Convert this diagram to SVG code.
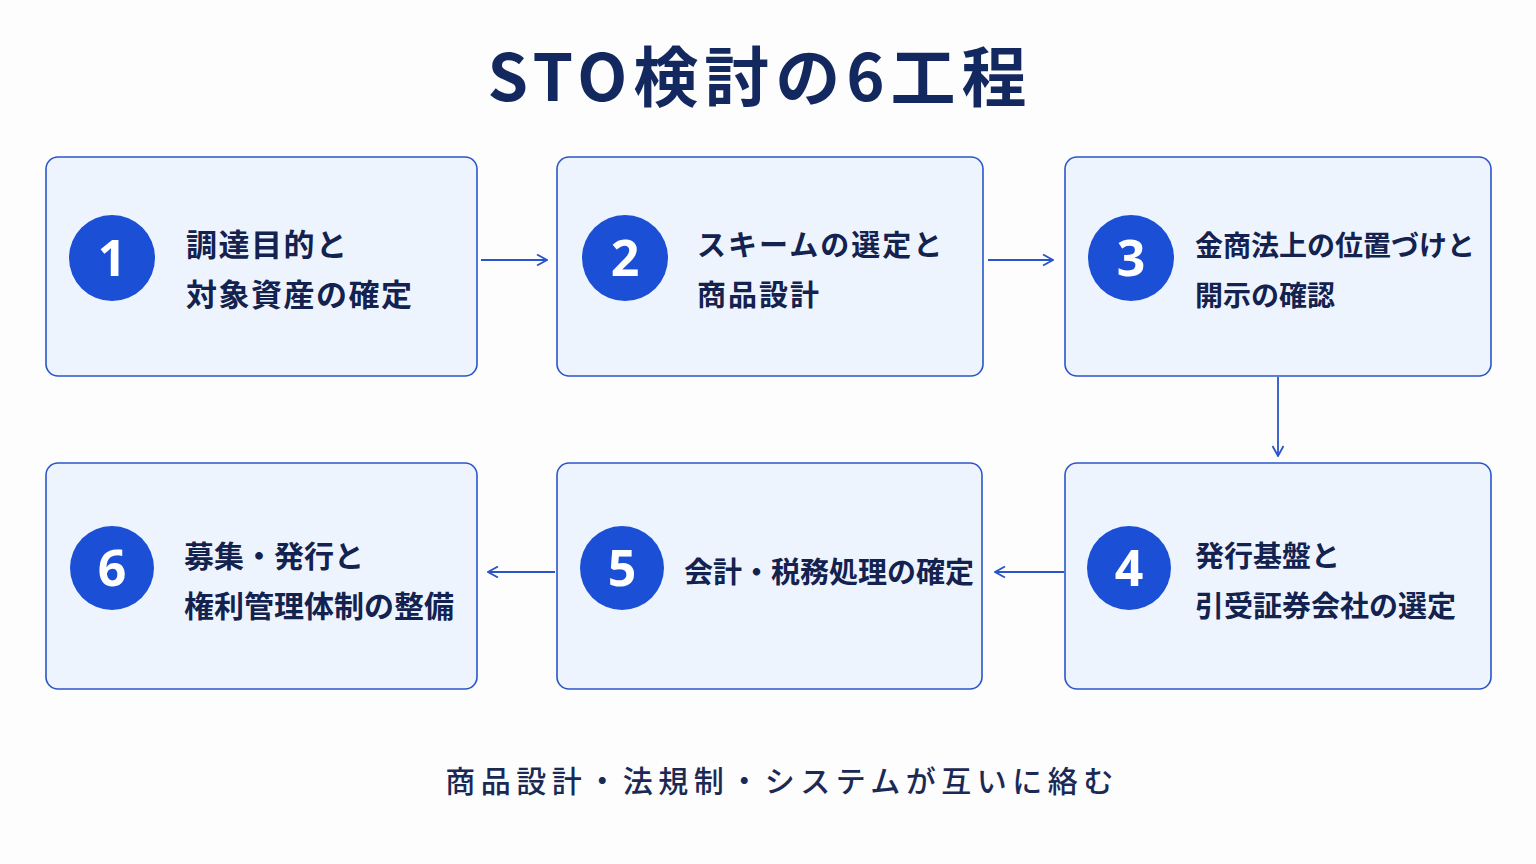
<svg xmlns="http://www.w3.org/2000/svg" width="1536" height="864" viewBox="0 0 1536 864">
<defs>
<style>
.bg{fill:#fdfdfe}
.box{fill:#eef4fd;stroke:#2a55c8;stroke-width:1.6}
.num-c{fill:#1a4fd6}
.num{fill:#ffffff;font-family:"Noto Sans","Noto Sans CJK JP",sans-serif;font-weight:700;font-size:50px;text-anchor:middle}
.lbl{fill:#13224f;font-family:"Noto Sans CJK JP",sans-serif;font-weight:700;font-size:29px}
.title{fill:#13285e;font-family:"Noto Sans CJK JP",sans-serif;font-weight:700;font-size:65px;text-anchor:middle;letter-spacing:6px}
.foot{fill:#1b2a55;font-family:"Noto Sans CJK JP",sans-serif;font-weight:500;font-size:30px;text-anchor:middle;letter-spacing:5.5px}
.conn{stroke:#2a55c8;stroke-width:1.8;fill:none}
</style>
<marker id="arr" viewBox="0 0 12 12" refX="11" refY="6" markerWidth="12" markerHeight="12" markerUnits="userSpaceOnUse" orient="auto">
<path d="M1,0.5 L11,6 L1,11.5" fill="none" stroke="#2a55c8" stroke-width="1.8"/>
</marker>
</defs>
<rect class="bg" x="0" y="0" width="1536" height="864"/>
<text class="title" x="760" y="101">STO検討の6工程</text>

<g id="connectors">
<line class="conn" x1="481" y1="260" x2="547" y2="260" marker-end="url(#arr)"/>
<line class="conn" x1="988" y1="260" x2="1053" y2="260" marker-end="url(#arr)"/>
<line class="conn" x1="1278" y1="377" x2="1278" y2="456" marker-end="url(#arr)"/>
<line class="conn" x1="1064" y1="572" x2="995" y2="572" marker-end="url(#arr)"/>
<line class="conn" x1="555" y1="572" x2="488" y2="572" marker-end="url(#arr)"/>
</g>

<g id="node1">
<rect class="box" x="46" y="157" width="431" height="219" rx="12"/>
<circle class="num-c" cx="112" cy="258" r="43"/>
<text class="num" x="112" y="276">1</text>
<text class="lbl" x="186" y="256" style="font-size:31px;letter-spacing:1.5px">調達目的と</text>
<text class="lbl" x="186" y="306" style="font-size:31px;letter-spacing:1.5px">対象資産の確定</text>
</g>

<g id="node2">
<rect class="box" x="557" y="157" width="426" height="219" rx="12"/>
<circle class="num-c" cx="625" cy="258" r="43"/>
<text class="num" x="625" y="276">2</text>
<text class="lbl" x="697" y="256" style="letter-spacing:2px">スキームの選定と</text>
<text class="lbl" x="697" y="306" style="letter-spacing:2px">商品設計</text>
</g>

<g id="node3">
<rect class="box" x="1065" y="157" width="426" height="219" rx="12"/>
<circle class="num-c" cx="1131" cy="258" r="43"/>
<text class="num" x="1131" y="276">3</text>
<text class="lbl" x="1195" y="256" style="font-size:28px">金商法上の位置づけと</text>
<text class="lbl" x="1195" y="306" style="font-size:28px">開示の確認</text>
</g>

<g id="node4">
<rect class="box" x="1065" y="463" width="426" height="226" rx="12"/>
<circle class="num-c" cx="1129" cy="568" r="42"/>
<text class="num" x="1129" y="586">4</text>
<text class="lbl" x="1195" y="567">発行基盤と</text>
<text class="lbl" x="1195" y="617">引受証券会社の選定</text>
</g>

<g id="node5">
<rect class="box" x="557" y="463" width="425" height="226" rx="12"/>
<circle class="num-c" cx="622" cy="568" r="42"/>
<text class="num" x="622" y="586">5</text>
<text class="lbl" x="684" y="583">会計・税務処理の確定</text>
</g>

<g id="node6">
<rect class="box" x="46" y="463" width="431" height="226" rx="12"/>
<circle class="num-c" cx="112" cy="568" r="42"/>
<text class="num" x="112" y="586">6</text>
<text class="lbl" x="184" y="567" style="font-size:30px">募集・発行と</text>
<text class="lbl" x="184" y="617" style="font-size:30px">権利管理体制の整備</text>
</g>

<text class="foot" x="782" y="792">商品設計・法規制・システムが互いに絡む</text>
</svg>
